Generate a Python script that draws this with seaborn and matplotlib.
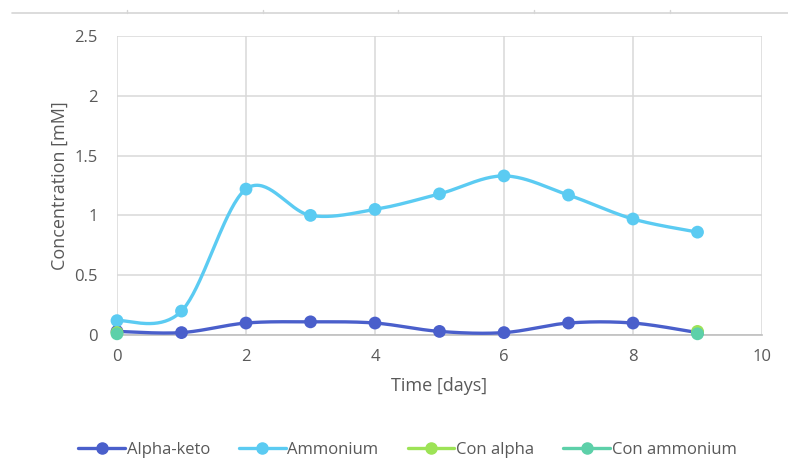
import numpy as np
import pandas as pd
import matplotlib
matplotlib.use("Agg")
import matplotlib.pyplot as plt
from matplotlib.lines import Line2D
import seaborn as sns

# Measurements over time
days = [0, 1, 2, 3, 4, 5, 6, 7, 8, 9]
alpha_keto = [0.03, 0.02, 0.10, 0.11, 0.10, 0.03, 0.02, 0.10, 0.10, 0.02]
ammonium = [0.12, 0.20, 1.22, 1.00, 1.05, 1.18, 1.33, 1.17, 0.97, 0.86]

# Controls (start and end only)
con_days = [0, 9]
con_alpha = [0.02, 0.03]
con_ammonium = [0.01, 0.01]

series_names = ["Alpha-keto", "Ammonium", "Con alpha", "Con ammonium"]
colors = {"Alpha-keto": "#4A5FCB", "Ammonium": "#5BCBF2",
          "Con alpha": "#9DE356", "Con ammonium": "#5DD0A9"}

x_ticks = [0, 2, 4, 6, 8, 10]
y_ticks = [0, 0.5, 1, 1.5, 2, 2.5]
y_tick_labels = ["0", "0.5", "1", "1.5", "2", "2.5"]


def smooth(xs, ys, n=40):
    """Bezier smoothing through every point (Catmull-Rom style control points)."""
    p = np.column_stack([xs, ys]).astype(float)
    out = []
    for i in range(len(p) - 1):
        p0 = p[i - 1] if i > 0 else p[i]
        p1, p2 = p[i], p[i + 1]
        p3 = p[i + 2] if i + 2 < len(p) else p[i + 1]
        c1 = p1 + (p2 - p0) / 6.0
        c2 = p2 - (p3 - p1) / 6.0
        t = np.linspace(0, 1, n)[:, None]
        seg = ((1 - t) ** 3) * p1 + 3 * ((1 - t) ** 2) * t * c1 + 3 * (1 - t) * t ** 2 * c2 + t ** 3 * p2
        out.append(seg if i == 0 else seg[1:])
    return np.vstack(out)


sns.set_theme(style="white")
plt.rcParams["font.family"] = ["Open Sans", "DejaVu Sans"]

fig = plt.figure(figsize=(7.88, 4.58), dpi=100)
ax = fig.add_axes([117 / 788, 1 - 335 / 458, (762 - 117) / 788, (335 - 36) / 458])

main = pd.DataFrame({"day": days * 2,
                     "value": alpha_keto + ammonium,
                     "series": ["Alpha-keto"] * len(days) + ["Ammonium"] * len(days)})
controls = pd.DataFrame({"day": con_days * 2,
                         "value": con_alpha + con_ammonium,
                         "series": ["Con alpha"] * 2 + ["Con ammonium"] * 2})

for name, vals in [("Alpha-keto", alpha_keto), ("Ammonium", ammonium)]:
    curve = smooth(days, vals)
    ax.plot(curve[:, 0], curve[:, 1], color=colors[name], lw=2.4,
            solid_capstyle="round", zorder=3, clip_on=False)

sns.scatterplot(data=main, x="day", y="value", hue="series", palette=colors,
                s=85, edgecolor="none", legend=False, ax=ax, zorder=4, clip_on=False)
sns.scatterplot(data=controls, x="day", y="value", hue="series", palette=colors,
                s=85, edgecolor="none", legend=False, ax=ax, zorder=5, clip_on=False)

ax.set_xlim(0, 10)
ax.set_ylim(0, 2.5)
ax.set_xticks(x_ticks)
ax.set_xticklabels([str(v) for v in x_ticks])
ax.set_yticks(y_ticks)
ax.set_yticklabels(y_tick_labels)
ax.grid(True, color="#D9D9D9", lw=1.1)
ax.set_axisbelow(True)
for side in ["left", "right", "top"]:
    ax.spines[side].set_visible(False)
ax.spines["bottom"].set_color("#BFBFBF")
ax.spines["bottom"].set_linewidth(1.2)
ax.tick_params(axis="both", length=0, labelsize=12, labelcolor="#595959")
ax.tick_params(axis="y", pad=14)
ax.tick_params(axis="x", pad=10)
ax.set_xlabel("Time [days]", fontsize=13, color="#595959", labelpad=9)
ax.set_ylabel("Concentration [mM]", fontsize=13, color="#595959", labelpad=4)

handles = [Line2D([0], [0], color=colors[n], lw=2.4, marker="o", markersize=8)
           for n in series_names]
fig.legend(handles, series_names, loc="center", bbox_to_anchor=(0.517, 1 - 450 / 458),
           ncol=4, frameon=False, fontsize=12, labelcolor="#595959",
           handlelength=2.8, handletextpad=0.1, columnspacing=1.75)

# thin rule along the top edge of the canvas
fig.add_artist(Line2D([12 / 788, 1], [1 - 13 / 458] * 2, color="#D6D6D6", lw=1.2))
for px in [127, 263, 398, 534, 670]:
    fig.add_artist(Line2D([px / 788] * 2, [1 - 13 / 458, 1 - 10 / 458],
                          color="#D6D6D6", lw=1))

fig.savefig("out.png", dpi=100)
